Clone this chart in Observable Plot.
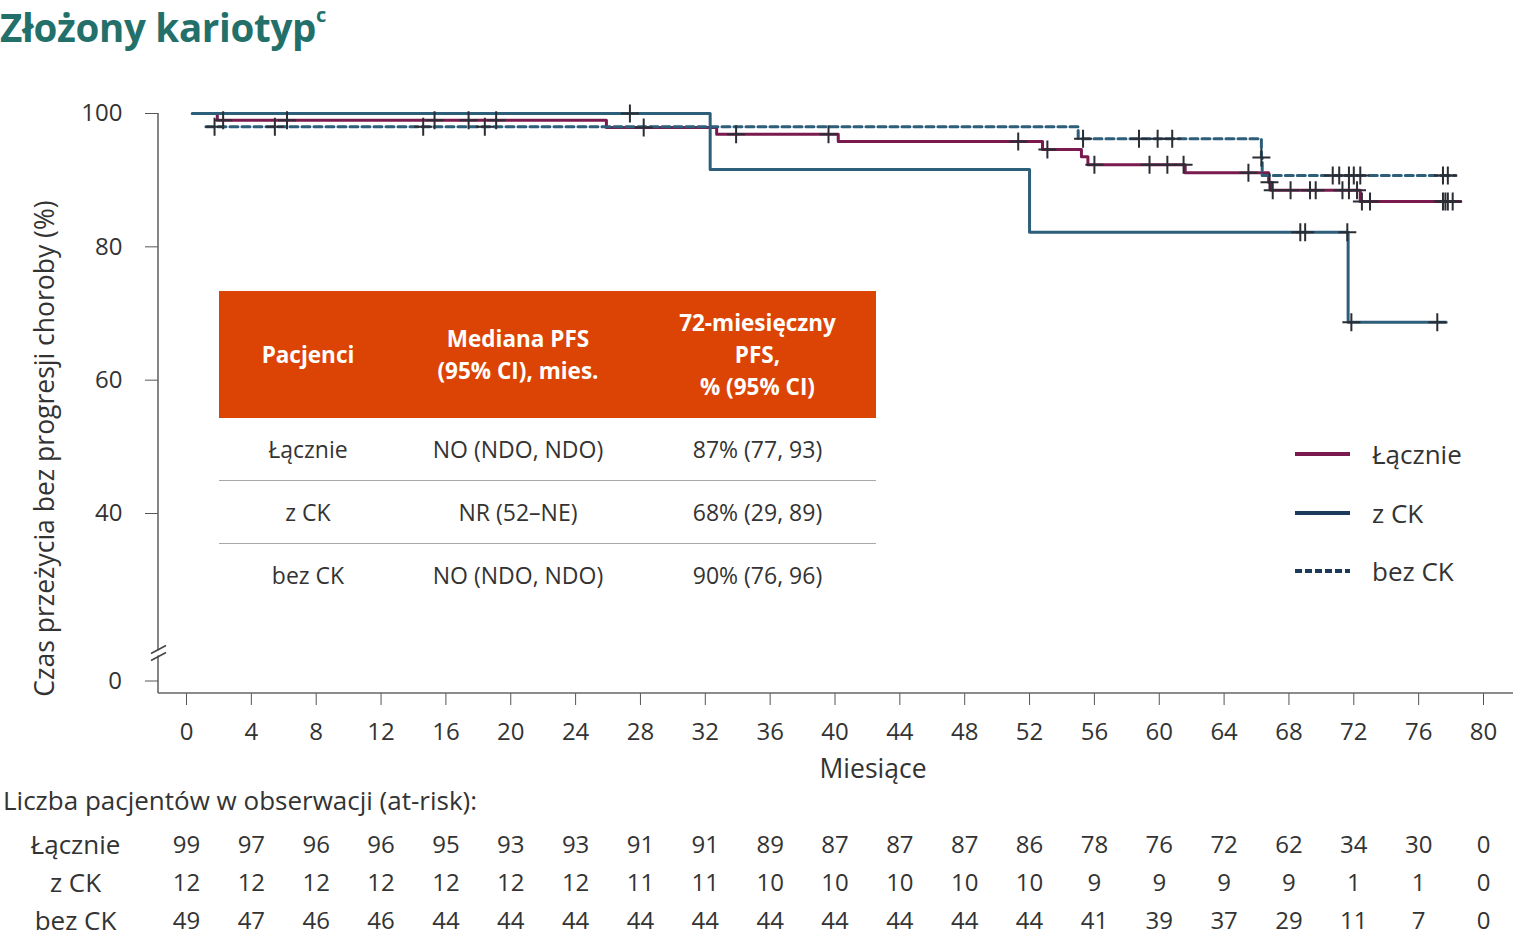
<!DOCTYPE html>
<html>
<head>
<meta charset="utf-8">
<script src="https://cdn.jsdelivr.net/npm/d3@7"></script>
<script src="https://cdn.jsdelivr.net/npm/@observablehq/plot@0.6"></script>
<style>
  body { margin: 0; background: #fff; font-family: "Open Sans", "Noto Sans", sans-serif; color: #333; }
  #wrap { position: relative; width: 1515px; height: 940px; overflow: hidden; background: #fff; }
  #title { position: absolute; left: 0; top: 1px; font-size: 38.5px; font-weight: 700; color: #23706b; letter-spacing: -0.3px; }
  #title sup { font-size: 20px; position: relative; top: -6px; }
  #main { position: absolute; left: 0; top: 60px; }
  #riskTitle { position: absolute; left: 3px; top: 782px; font-size: 26px; color: #333; }
  #risk { position: absolute; left: 0; top: 820px; }
  #inset { position: absolute; left: 219px; top: 291px; width: 657px; border-collapse: collapse; font-size: 23px; color: #333; }
  #inset th { background: #dc4405; color: #fff; font-weight: 700; height: 127px; padding: 0; text-align: center; line-height: 32px; font-size: 22.5px; }
  #inset td { height: 62px; padding: 0; text-align: center; border-bottom: 1px solid #a8a8a8; }
  #inset tr:last-child td { border-bottom: none; }
  .leg { position: absolute; left: 1295px; height: 40px; display: flex; align-items: center; font-size: 26px; color: #333; }
  .leg span { margin-left: 22px; }
  svg { overflow: visible; }
</style>
</head>
<body>
<div id="wrap">
  <div id="title"></div>
  <div id="main"></div>
  <div id="riskTitle"></div>
  <div id="risk"></div>
  <table id="inset"></table>
  <div id="legend"></div>
</div>
<script>
// ---------- DATA ----------
const titleText = "Złożony kariotyp";
const titleSup = "c";
const xLabel = "Miesiące";
const yLabel = "Czas przeżycia bez progresji choroby (%)";
const riskLabel = "Liczba pacjentów w obserwacji (at-risk):";

const monthTicks = [0, 4, 8, 12, 16, 20, 24, 28, 32, 36, 40, 44, 48, 52, 56, 60, 64, 68, 72, 76, 80];
const yTicks = [0, 40, 60, 80, 100];   // 0 sits below the axis break
const groups = ["Łącznie", "z CK", "bez CK"];

// Kaplan–Meier step curves: [month, % PFS]
const totalCurve = [[0.85, 100], [1.9, 99.0], [25.9, 97.9], [32.7, 96.9], [40.2, 95.8], [52.8, 94.6], [55.2, 93.5], [55.6, 92.3], [61.6, 91.1], [66.75, 89.7], [66.9, 88.5], [72.4, 86.8], [78.6, 86.8]];
const ckCurve = [[0.35, 100], [32.3, 91.6], [52.0, 82.2], [71.65, 68.7], [77.7, 68.7]];
const noCkCurve = [[1.2, 98.0], [55.0, 96.2], [66.3, 93.4], [66.35, 90.7], [78.3, 90.7]];

// censored observations: [month, % PFS]
const totalCensor = [[2.26, 99.0], [6.2, 99.0], [15.3, 99.0], [17.4, 99.0], [19.1, 99.0], [28.2, 97.9], [33.9, 96.9], [39.6, 96.9], [51.3, 95.8], [53.1, 94.6], [56.0, 92.3], [59.4, 92.3], [60.5, 92.3], [61.5, 92.3], [65.5, 91.1], [66.8, 89.7], [67.0, 88.5], [68.1, 88.5], [69.3, 88.5], [69.65, 88.5], [71.3, 88.5], [71.7, 88.5], [72.2, 88.5], [72.5, 86.8], [73.0, 86.8], [77.5, 86.8], [77.65, 86.8], [77.8, 86.8], [78.1, 86.8]];
const ckCensor = [[27.35, 100], [68.7, 82.2], [69.0, 82.2], [71.6, 82.2], [71.85, 68.7], [77.15, 68.7]];
const noCkCensor = [[1.73, 98.0], [5.45, 98.0], [14.6, 98.0], [18.4, 98.0], [55.3, 96.2], [58.75, 96.2], [59.9, 96.2], [60.8, 96.2], [66.3, 93.4], [70.7, 90.7], [71.1, 90.7], [71.7, 90.7], [72.0, 90.7], [72.4, 90.7], [77.5, 90.7], [77.8, 90.7]];

// number at risk
const atRiskTotal = [99, 97, 96, 96, 95, 93, 93, 91, 91, 89, 87, 87, 87, 86, 78, 76, 72, 62, 34, 30, 0];
const atRiskCK = [12, 12, 12, 12, 12, 12, 12, 11, 11, 10, 10, 10, 10, 10, 9, 9, 9, 9, 1, 1, 0];
const atRiskNoCK = [49, 47, 46, 46, 44, 44, 44, 44, 44, 44, 44, 44, 44, 44, 41, 39, 37, 29, 11, 7, 0];

// inset table
const tableHeader = ["Pacjenci", "Mediana PFS\n(95% CI), mies.", "72-miesięczny\nPFS,\n% (95% CI)"];
const tableMedian = ["NO (NDO, NDO)", "NR (52–NE)", "NO (NDO, NDO)"];
const table72 = ["87% (77, 93)", "68% (29, 89)", "90% (76, 96)"];

// ---------- STYLE ----------
const FONT = '"Open Sans", "Noto Sans", sans-serif';
const cTotal = "#7a1a4e", cCK = "#2d5e7a", cNoCK = "#2d5e7a", cCross = "#2a2d34";
const legendColors = ["#7a1a4e", "#1c3b5c", "#1c3b5c"];
const legendDash = [null, null, "7,3"];

// ---------- BUILD ----------
document.getElementById("title").innerHTML = titleText + "<sup>" + titleSup + "</sup>";
document.getElementById("riskTitle").textContent = riskLabel;

const toObj = (arr) => arr.map(([m, v]) => ({m, v}));
const cross = {
  draw(ctx, size) {
    const r = Math.sqrt(size / Math.PI);
    ctx.moveTo(-r, 0); ctx.lineTo(r, 0);
    ctx.moveTo(0, -r); ctx.lineTo(0, r);
  }
};
const upperTicks = yTicks.filter(t => t >= 40);
const breakTicks = yTicks.filter(t => t < 40);

// axis lines, the axis break and the "0" tick that sits below the break
const axisLines = (index, scales, values, dim) => {
  const g = d3.create("svg:g");
  const L = dim.marginLeft, B = dim.height - dim.marginBottom, R = dim.width - dim.marginRight, T = dim.marginTop;
  g.append("line").attr("x1", L).attr("x2", L).attr("y1", T).attr("y2", B).attr("stroke", "#666").attr("stroke-width", 1.6);
  g.append("line").attr("x1", L).attr("x2", R).attr("y1", B).attr("y2", B).attr("stroke", "#666").attr("stroke-width", 1.6);
  const y0 = B - 12;
  breakTicks.forEach(t => {
    g.append("line").attr("x1", L - 13).attr("x2", L).attr("y1", y0).attr("y2", y0).attr("stroke", "#555");
    g.append("text").attr("x", L - 36).attr("y", y0).attr("dy", "0.35em").attr("text-anchor", "end")
      .attr("font-size", 24).attr("fill", "#333").text(t);
  });
  const yb = y0 - 28;
  g.append("rect").attr("x", L - 4).attr("y", yb - 2.5).attr("width", 8).attr("height", 5).attr("fill", "#fff");
  [-3.5, 3.5].forEach(o => g.append("line")
    .attr("x1", L - 7).attr("y1", yb + o + 4).attr("x2", L + 8).attr("y2", yb + o - 4)
    .attr("stroke", "#444").attr("stroke-width", 1.5));
  return g.node();
};

const main = Plot.plot({
  width: 1515, height: 725,
  marginTop: 53, marginBottom: 92, marginLeft: 158, marginRight: 2,
  style: {fontFamily: FONT, fontSize: "24px", color: "#333", background: "transparent", overflow: "visible"},
  x: {domain: [0, 80], range: [186, 1483]},
  y: {domain: [40, 100], range: [453, 53]},
  marks: [
    Plot.axisX({ticks: monthTicks, tickSize: 12, tickPadding: 17, label: null, fontSize: 24, stroke: "#555", fill: "#333"}),
    Plot.axisY({ticks: upperTicks, tickSize: 13, tickPadding: 23, label: null, fontSize: 24, stroke: "#555", fill: "#333"}),
    axisLines,
    Plot.text([yLabel], {frameAnchor: "left", textAnchor: "middle", dx: -113, dy: 45, rotate: -90, fontSize: 26.5, fill: "#333"}),
    Plot.text([xLabel], {frameAnchor: "bottom", textAnchor: "middle", dx: 37, dy: 84, fontSize: 26.5, fill: "#333"}),
    Plot.line(toObj(totalCurve), {x: "m", y: "v", curve: "step-after", stroke: cTotal, strokeWidth: 3}),
    Plot.line(toObj(ckCurve), {x: "m", y: "v", curve: "step-after", stroke: cCK, strokeWidth: 3}),
    Plot.line(toObj(noCkCurve), {x: "m", y: "v", curve: "step-after", stroke: cNoCK, strokeWidth: 3, strokeDasharray: "8,4"}),
    Plot.dot(toObj(totalCensor), {x: "m", y: "v", symbol: cross, r: 9, fill: "none", stroke: cCross, strokeWidth: 2}),
    Plot.dot(toObj(ckCensor), {x: "m", y: "v", symbol: cross, r: 9, fill: "none", stroke: cCross, strokeWidth: 2}),
    Plot.dot(toObj(noCkCensor), {x: "m", y: "v", symbol: cross, r: 9, fill: "none", stroke: cCross, strokeWidth: 2})
  ]
});
document.getElementById("main").appendChild(main);

// at-risk table
const riskArrays = [atRiskTotal, atRiskCK, atRiskNoCK];
const riskData = [];
groups.forEach((g, gi) => monthTicks.forEach((m, i) => riskData.push({group: g, m, n: riskArrays[gi][i]})));
const risk = Plot.plot({
  width: 1515, height: 120,
  marginTop: 0, marginBottom: 0, marginLeft: 0, marginRight: 0,
  style: {fontFamily: FONT, color: "#333", background: "transparent", overflow: "visible"},
  x: {domain: [0, 80], range: [186, 1483], axis: null},
  y: {type: "point", domain: groups, range: [25, 101], padding: 0, axis: null},
  marks: [
    Plot.text(riskData, {x: "m", y: "group", text: "n", fontSize: 24, fill: "#333"}),
    Plot.text(groups, {y: d => d, text: d => d, frameAnchor: "left", textAnchor: "middle", dx: 75, fontSize: 26, fill: "#333"})
  ]
});
document.getElementById("risk").appendChild(risk);

// inset table
const tbl = document.getElementById("inset");
const widths = [178, 242, 237];
let html = "<tr>" + tableHeader.map((h, i) => `<th style="width:${widths[i]}px">${h.split("\n").join("<br>")}</th>`).join("") + "</tr>";
groups.forEach((g, i) => { html += `<tr><td>${g}</td><td>${tableMedian[i]}</td><td>${table72[i]}</td></tr>`; });
tbl.innerHTML = html;

// legend
const leg = document.getElementById("legend");
const legTops = [434, 493, 551];
groups.forEach((g, i) => {
  const d = document.createElement("div");
  d.className = "leg";
  d.style.top = legTops[i] + "px";
  d.innerHTML = `<svg width="55" height="8"><line x1="0" x2="55" y1="4" y2="4" stroke="${legendColors[i]}" stroke-width="4" ${legendDash[i] ? `stroke-dasharray="${legendDash[i]}"` : ""}/></svg><span>${g}</span>`;
  leg.appendChild(d);
});
</script>
</body>
</html>
